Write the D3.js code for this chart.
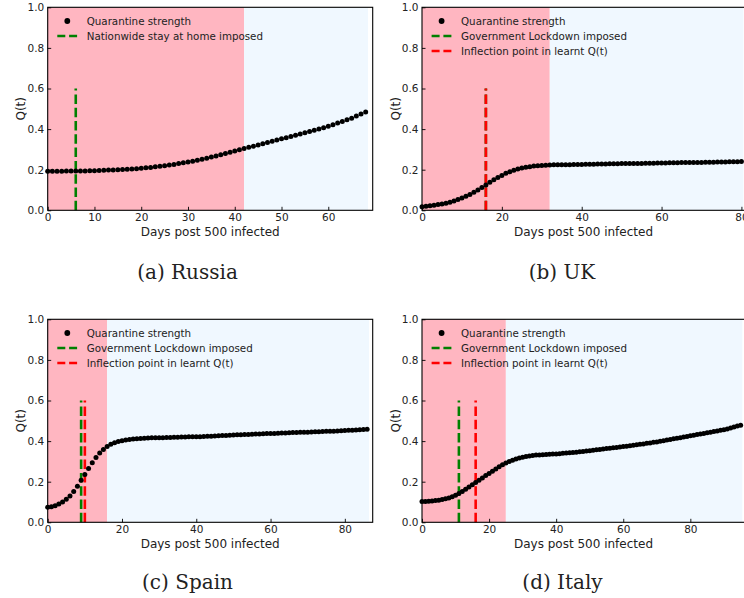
<!DOCTYPE html>
<html><head><meta charset="utf-8">
<script src="https://cdn.jsdelivr.net/npm/d3@7"></script>
<style>body{margin:0;background:#fff}svg{display:block}</style>
</head><body><svg id="c" width="744" height="598"></svg>
<script>
// ---- data (one value per day since 500 infected) ----
const russiaQ = [0.192,0.192,0.192,0.192,0.193,0.193,0.193,0.194,0.194,0.195,
 0.195,0.196,0.197,0.198,0.199,0.200,0.201,0.202,0.204,0.205,
 0.207,0.209,0.211,0.214,0.217,0.220,0.223,0.226,0.230,0.234,
 0.238,0.242,0.247,0.252,0.257,0.263,0.268,0.274,0.280,0.286,
 0.292,0.298,0.304,0.310,0.316,0.322,0.328,0.334,0.340,0.346,
 0.352,0.358,0.364,0.370,0.376,0.382,0.388,0.394,0.400,0.407,
 0.414,0.422,0.430,0.438,0.446,0.454,0.464,0.474,0.484];
const ukQ = [0.018,0.020,0.022,0.025,0.028,0.031,0.035,0.040,0.046,0.053,
 0.060,0.069,0.078,0.089,0.100,0.112,0.125,0.138,0.150,0.161,
 0.172,0.182,0.190,0.197,0.203,0.208,0.212,0.215,0.218,0.220,
 0.221,0.222,0.223,0.224,0.224,0.225,0.225,0.225,0.226,0.226,
 0.226,0.227,0.227,0.227,0.228,0.228,0.228,0.229,0.229,0.229,
 0.230,0.230,0.230,0.231,0.231,0.231,0.232,0.232,0.232,0.233,
 0.233,0.233,0.234,0.234,0.234,0.235,0.235,0.235,0.236,0.236,
 0.236,0.237,0.237,0.237,0.238,0.238,0.238,0.239,0.239,0.239,
 0.240];
const spainQ = [0.074,0.077,0.082,0.090,0.100,0.113,0.130,0.152,0.178,0.207,
 0.236,0.265,0.293,0.319,0.341,0.359,0.373,0.384,0.392,0.398,
 0.402,0.405,0.408,0.410,0.412,0.413,0.414,0.415,0.416,0.416,
 0.417,0.417,0.418,0.418,0.419,0.419,0.420,0.420,0.421,0.421,
 0.422,0.422,0.423,0.424,0.424,0.425,0.426,0.427,0.428,0.429,
 0.430,0.431,0.431,0.432,0.433,0.434,0.435,0.435,0.436,0.437,
 0.438,0.438,0.439,0.440,0.440,0.441,0.442,0.442,0.443,0.444,
 0.444,0.445,0.446,0.446,0.447,0.448,0.448,0.449,0.450,0.451,
 0.452,0.453,0.454,0.455,0.456,0.457,0.458];
const italyQ = [0.102,0.103,0.104,0.105,0.107,0.109,0.112,0.116,0.120,0.126,
 0.133,0.142,0.152,0.163,0.174,0.185,0.196,0.207,0.218,0.230,
 0.241,0.252,0.263,0.274,0.284,0.292,0.300,0.306,0.312,0.317,
 0.321,0.324,0.327,0.329,0.331,0.332,0.333,0.334,0.335,0.336,
 0.337,0.338,0.340,0.341,0.342,0.344,0.345,0.347,0.349,0.351,
 0.353,0.355,0.357,0.359,0.361,0.363,0.365,0.367,0.369,0.371,
 0.373,0.375,0.377,0.379,0.382,0.384,0.386,0.389,0.391,0.394,
 0.396,0.399,0.402,0.405,0.408,0.411,0.414,0.417,0.420,0.423,
 0.426,0.429,0.432,0.435,0.438,0.441,0.444,0.447,0.450,0.453,
 0.456,0.460,0.465,0.469,0.474,0.478];

const captions = ["(a) Russia", "(b) UK", "(c) Spain", "(d) Italy"];
const lockdownDays = [6, 16, 9, 11];
const inflectionDays = [null, 16, 10, 16];
const pinkEnds = [42, 32, 16, 25];
const blueEnds = [68.5, 80.5, 86.5, 95.5];
const xMaxes = [69.5, 80.9, 87.5, 96.3];
const xTicksA = [0, 10, 20, 30, 40, 50, 60];
const xTicksB = [0, 20, 40, 60, 80];
const yTicks = [0, 0.2, 0.4, 0.6, 0.8, 1.0];
const lockdownLabels = ["Nationwide stay at home imposed", "Government Lockdown imposed",
  "Government Lockdown imposed", "Government Lockdown imposed"];
const qLabel = "Quarantine strength";
const inflLabel = "Inflection point in learnt Q(t)";
const lineTop = 0.6;

const series = [russiaQ, ukQ, spainQ, italyQ];
const xTickSets = [xTicksA, xTicksB, xTicksB, xTicksB];

// ---- layout ----
const boxes = [
  {l: 47.7, r: 372.7, t: 7.3, b: 210.3, cx: 187.5, cy: 279},
  {l: 422, r: 745, t: 7.3, b: 210.3, cx: 562, cy: 279},
  {l: 47.7, r: 372.7, t: 319.3, b: 522.3, cx: 187.5, cy: 589},
  {l: 422, r: 745, t: 319.3, b: 522.3, cx: 562.5, cy: 589}
];
const FONT = "'DejaVu Sans', sans-serif";
const svg = d3.select("#c");

series.forEach((q, i) => {
  const bx = boxes[i];
  const x = d3.scaleLinear().domain([0, xMaxes[i]]).range([bx.l, bx.r]);
  const y = d3.scaleLinear().domain([0, 1]).range([bx.b, bx.t]);
  const g = svg.append("g");

  // background spans
  g.append("rect").attr("x", x(0)).attr("y", y(1))
    .attr("width", x(pinkEnds[i]) - x(0)).attr("height", y(0) - y(1))
    .attr("fill", "#ffb6c1");
  g.append("rect").attr("x", x(pinkEnds[i])).attr("y", y(1))
    .attr("width", x(blueEnds[i]) - x(pinkEnds[i])).attr("height", y(0) - y(1))
    .attr("fill", "#f0f8ff");

  // vertical dashed lines
  const vline = (day, color) => g.append("line")
    .attr("x1", x(day)).attr("x2", x(day))
    .attr("y1", y(0)).attr("y2", y(lineTop))
    .attr("stroke", color).attr("stroke-width", 2.6)
    .attr("stroke-dasharray", "9.5,3.8");
  vline(lockdownDays[i], "#008000");
  if (inflectionDays[i] !== null) vline(inflectionDays[i], "#ff0000");

  // dots
  g.append("g").selectAll("circle").data(q).join("circle")
    .attr("cx", (d, k) => x(k)).attr("cy", d => y(d))
    .attr("r", 2.5).attr("fill", "#000");

  // axes
  const xa = d3.axisBottom(x).tickValues(xTickSets[i]).tickFormat(d3.format("d"))
    .tickSizeInner(-3.5).tickSizeOuter(0).tickPadding(3);
  const ya = d3.axisLeft(y).tickValues(yTicks).tickFormat(d3.format(".1f"))
    .tickSizeInner(-3.5).tickSizeOuter(0).tickPadding(3.5);
  const gx = g.append("g").attr("transform", `translate(0,${bx.b})`).call(xa);
  const gy = g.append("g").attr("transform", `translate(${bx.l},0)`).call(ya);
  [gx, gy].forEach(a => {
    a.select(".domain").remove();
    a.selectAll("line").attr("stroke", "#000").attr("stroke-width", 0.9);
    a.selectAll("text").attr("font-family", FONT).attr("font-size", 10.5).attr("fill", "#222");
  });

  // frame
  g.append("rect").attr("x", bx.l).attr("y", bx.t)
    .attr("width", bx.r - bx.l).attr("height", bx.b - bx.t)
    .attr("fill", "none").attr("stroke", "#000").attr("stroke-width", 1.1);

  // axis labels
  g.append("text").attr("x", (bx.l + bx.r) / 2).attr("y", bx.b + 25.2)
    .attr("text-anchor", "middle").attr("font-family", FONT).attr("font-size", 12)
    .attr("fill", "#222").text("Days post 500 infected");
  g.append("text").attr("transform", `translate(${bx.l - 22.5},${(bx.t + bx.b) / 2}) rotate(-90)`)
    .attr("text-anchor", "middle").attr("font-family", FONT).attr("font-size", 12)
    .attr("fill", "#222").text("Q(t)");

  // legend
  const lg = g.append("g").attr("transform", `translate(${bx.l},${bx.t})`);
  const rows = [{type: "dot", label: qLabel},
                {type: "line", color: "#008000", label: lockdownLabels[i]}];
  if (inflectionDays[i] !== null) rows.push({type: "line", color: "#ff0000", label: inflLabel});
  rows.forEach((r, k) => {
    const ry = 13.7 + k * 15;
    if (r.type === "dot") {
      lg.append("circle").attr("cx", 19.6).attr("cy", ry).attr("r", 2.9).attr("fill", "#000");
    } else {
      lg.append("line").attr("x1", 9.6).attr("x2", 30.8).attr("y1", ry).attr("y2", ry)
        .attr("stroke", r.color).attr("stroke-width", 2.6).attr("stroke-dasharray", "8,3.8");
    }
    lg.append("text").attr("x", 39).attr("y", ry).attr("dy", "0.35em")
      .attr("font-family", FONT).attr("font-size", 10.3).attr("fill", "#222").text(r.label);
  });

  // caption
  svg.append("text").attr("x", bx.cx).attr("y", bx.cy).attr("text-anchor", "middle")
    .attr("font-family", "'DejaVu Serif', serif").attr("font-size", 20)
    .attr("fill", "#222").text(captions[i]);
});
</script>
</body></html>
